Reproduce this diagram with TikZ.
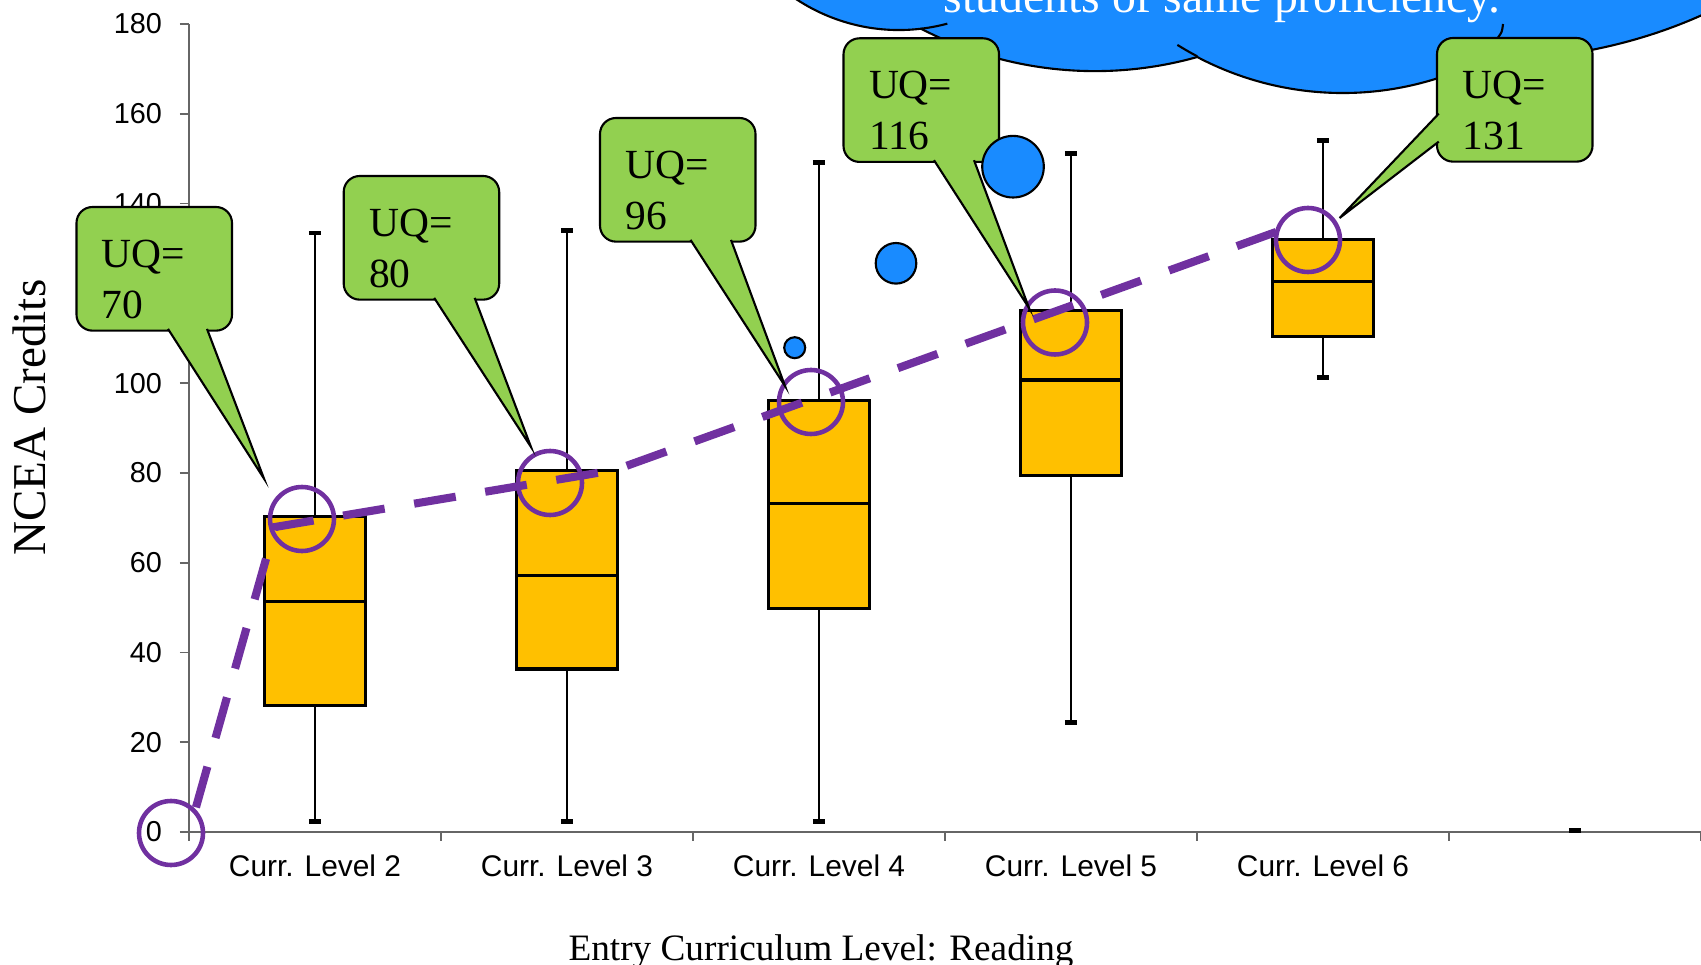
\documentclass[tikz,border=0pt]{standalone}
\usepackage{fontspec}
\setmainfont{Liberation Serif}
\newfontfamily\arialfont{Liberation Sans}
\usetikzlibrary{calc}
\tikzset{
  axisln/.style={line width=0.5pt, black!60},
  whiskln/.style={line width=0.7pt},
  capln/.style={line width=1.3pt},
  boxln/.style={fill=boxcolor, draw=black, line width=0.9pt},
  trendln/.style={ringcolor, line width=2.3pt, dash pattern=on 12pt off 8.5pt, dash phase=13.2pt},
  uqring/.style={circle, draw=ringcolor, line width=1.3pt, minimum size=0.64cm, inner sep=0pt},
  uqbox/.style={rectangle, rounded corners=0.16cm, fill=uqcolor, draw=black, line width=0.6pt,
    outer sep=0pt, anchor=north west, minimum width=1.555cm, minimum height=1.155cm,
    inner xsep=0.255cm, text width=1.045cm, align=left, font=\fontsize{11.8}{14.6}\selectfont},
  uqtail/.style={fill=uqcolor, draw=black, line width=0.6pt, line join=miter},
  bubble/.style={circle, fill=bubblecolor, draw=black, line width=0.6pt, inner sep=0pt},
  cloudln/.style={fill=bubblecolor, draw=black, line width=0.6pt},
  ticklbl/.style={anchor=east, inner sep=0pt, font=\arialfont\fontsize{8.2}{9}\selectfont},
  catlbl/.style={anchor=base, inner sep=0pt, font=\arialfont\fontsize{8.5}{10}\selectfont},
}
\definecolor{boxcolor}{RGB}{255,192,0}
\definecolor{uqcolor}{RGB}{146,208,80}
\definecolor{ringcolor}{RGB}{112,48,160}
\definecolor{bubblecolor}{RGB}{25,139,255}
\newcommand{\uqtext}[1]{\rule{0pt}{4.85mm}UQ=\\#1}

\begin{document}
\begin{tikzpicture}
    \useasboundingbox (-1.89,-1.32) rectangle (15.12,8.32);
    \fill[white] (-1.89,-1.32) rectangle (15.12,8.32);
    % cloud, cut by the top edge
    \filldraw[cloudln] (5.348,9.246) arc[start angle=200, end angle=276.8, radius=1.864]
      arc[start angle=242.6, end angle=285.7, radius=3.78]
      arc[start angle=242.2, end angle=297.4, radius=3.12]
      .. controls (13.6,7.7) and (14.5,7.85) .. (15.3,8.25) -- (15.3,9.4) -- (5.3,9.4) -- cycle;
    \draw[line width=0.6pt] (7.321,8.033) arc[start angle=276.8, end angle=285, radius=1.864];
    \draw[line width=0.6pt] (10.082,7.757) arc[start angle=242.2, end angle=238, radius=3.12];
    \draw[line width=0.6pt] (13.14,8.08) .. controls (13.13,8.0) .. (13.09,7.945);
    \node[text=white, anchor=base, inner sep=0pt, font=\fontsize{13.6}{16}\selectfont]
      (cloudtxt) at (10.33,8.195) {students of same proficiency.};
    % chart in data units
    \begin{scope}[x=2.52cm, y=0.044895cm]
      \draw[axisln] (0,-2) -- (0,180);
      \draw[axisln] (0,0) -- (6,0);
      \foreach \v in {0,20,...,180} {
        \draw[axisln] (-0.036,\v) -- (0,\v);
        \node[ticklbl] (ytick\v) at (-0.1044,\v) {\v};
      }
      \foreach \k in {1,...,6}
        \draw[axisln] (\k,0) -- (\k,-2);
      % Curr. Level 2
      \draw[whiskln] (0.5,2.4) -- (0.5,133.4);
      \draw[capln] (0.476,2.4) -- (0.524,2.4) (0.476,133.4) -- (0.524,133.4);
      \draw[boxln] (0.3,28.1) rectangle (0.7,70.2);
      \draw[line width=0.9pt] (0.3,51.3) -- (0.7,51.3);
      \node[catlbl] (lvl2) at (0.5,-10) {Curr. Level 2};
      % Curr. Level 3
      \draw[whiskln] (1.5,2.4) -- (1.5,134);
      \draw[capln] (1.476,2.4) -- (1.524,2.4) (1.476,134) -- (1.524,134);
      \draw[boxln] (1.3,36.3) rectangle (1.7,80.5);
      \draw[line width=0.9pt] (1.3,57.2) -- (1.7,57.2);
      \node[catlbl] (lvl3) at (1.5,-10) {Curr. Level 3};
      % Curr. Level 4
      \draw[whiskln] (2.5,2.4) -- (2.5,149.1);
      \draw[capln] (2.476,2.4) -- (2.524,2.4) (2.476,149.1) -- (2.524,149.1);
      \draw[boxln] (2.3,49.8) rectangle (2.7,96.2);
      \draw[line width=0.9pt] (2.3,73.2) -- (2.7,73.2);
      \node[catlbl] (lvl4) at (2.5,-10) {Curr. Level 4};
      % Curr. Level 5
      \draw[whiskln] (3.5,24.4) -- (3.5,151.2);
      \draw[capln] (3.476,24.4) -- (3.524,24.4) (3.476,151.2) -- (3.524,151.2);
      \draw[boxln] (3.3,79.5) rectangle (3.7,116.1);
      \draw[line width=0.9pt] (3.3,100.7) -- (3.7,100.7);
      \node[catlbl] (lvl5) at (3.5,-10) {Curr. Level 5};
      % Curr. Level 6
      \draw[whiskln] (4.5,101.3) -- (4.5,154);
      \draw[capln] (4.476,101.3) -- (4.524,101.3) (4.476,154) -- (4.524,154);
      \draw[boxln] (4.3,110.3) rectangle (4.7,131.9);
      \draw[line width=0.9pt] (4.3,122.6) -- (4.7,122.6);
      \node[catlbl] (lvl6) at (4.5,-10) {Curr. Level 6};
      % empty last category
      \draw[capln] (5.476,0.3) -- (5.524,0.3);
    \end{scope}
    % dashed trend through the upper quartiles
    \coordinate (tr0) at (0,0);
    \coordinate (tr1) at (0.86,3.05);
    \coordinate (tr2) at (4.26,3.62);
    \coordinate (tr3) at (10.87,6.00);
    \draw[trendln] (tr0) -- (tr1) -- (tr2) -- (tr3);
    \node[uqring] (ring0) at (-0.18,-0.01) {};
    \node[uqring] (ring70) at (1.13,3.13) {};
    \node[uqring] (ring80) at (3.61,3.49) {};
    \node[uqring] (ring96) at (6.22,4.30) {};
    \node[uqring] (ring116) at (8.66,5.095) {};
    \node[uqring] (ring131) at (11.19,5.92) {};
    % callouts
    \node[uqbox] (uq70) at (-1.125,6.25) {\uqtext{70}};
    \coordinate (tip70) at (0.75,3.534);
    \path[uqtail] ([xshift=0.915cm,yshift=0.5pt]uq70.south west) -- (tip70)
      -- ([xshift=1.305cm,yshift=0.5pt]uq70.south west);
    \node[uqbox] (uq80) at (1.547,6.56) {\uqtext{80}};
    \coordinate (tip80) at (3.42,3.85);
    \path[uqtail] ([xshift=0.905cm,yshift=0.5pt]uq80.south west) -- (tip80)
      -- ([xshift=1.31cm,yshift=0.5pt]uq80.south west);
    \node[uqbox] (uq96) at (4.11,7.14) {\uqtext{96}};
    \coordinate (tip96) at (5.96,4.46);
    \path[uqtail] ([xshift=0.905cm,yshift=0.5pt]uq96.south west) -- (tip96)
      -- ([xshift=1.31cm,yshift=0.5pt]uq96.south west);
    \node[uqbox] (uq116) at (6.545,7.937) {\uqtext{116}};
    \coordinate (tip116) at (8.40,5.24);
    \path[uqtail] ([xshift=0.905cm,yshift=0.5pt]uq116.south west) -- (tip116)
      -- ([xshift=1.305cm,yshift=0.5pt]uq116.south west);
    \node[uqbox] (uq131) at (12.48,7.94) {\uqtext{131}};
    \coordinate (tip131) at (11.506,6.14);
    \path[uqtail] ([xshift=0.5pt,yshift=0.2cm]uq131.south west) -- (tip131)
      -- ([xshift=0.5pt,yshift=0.48cm]uq131.south west);
    % outlier bubbles
    \node[bubble, minimum size=0.21cm] (out108) at (6.057,4.843) {};
    \node[bubble, minimum size=0.406cm] (out127) at (7.07,5.687) {};
    \node[bubble, minimum size=0.616cm] (out148) at (8.24,6.653) {};
    % axis titles
    \node[rotate=90, anchor=base, inner sep=0pt, font=\fontsize{13.4}{16}\selectfont]
      (ytitle) at (-1.43,4.144) {NCEA Credits};
    \node[anchor=base, inner sep=0pt, font=\fontsize{10.6}{13}\selectfont]
      (xtitle) at (6.32,-1.28) {Entry Curriculum Level: Reading};
\end{tikzpicture}
\end{document}
